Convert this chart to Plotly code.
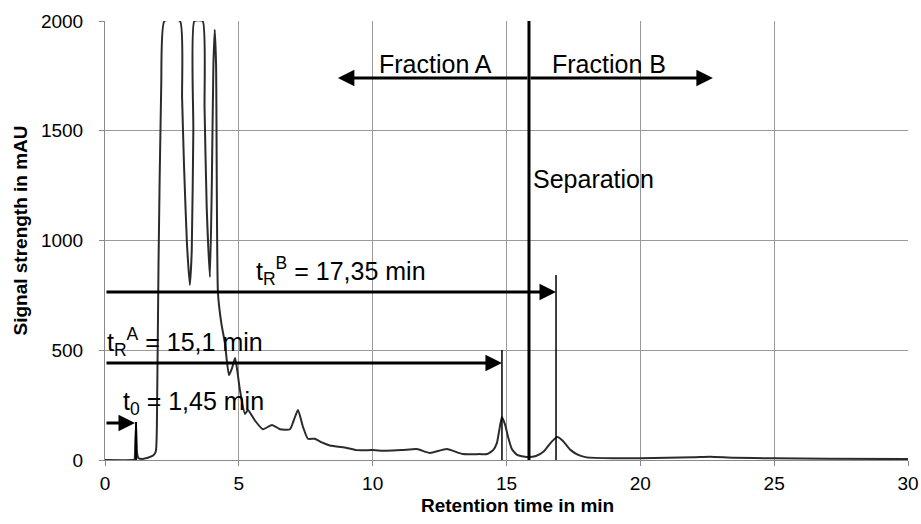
import plotly.graph_objects as go

# Chromatogram (retention time in min, signal in mAU)
time_min = [0, 1.05, 1.1, 1.13, 1.16, 1.2, 1.25, 1.4, 1.6, 1.8, 1.9, 1.95, 2.0, 2.1, 2.22,
            2.8, 2.88, 2.95, 3.06, 3.17, 3.24, 3.3, 3.34, 3.65, 3.72, 3.8, 3.92, 3.99,
            4.05, 4.1, 4.15, 4.22, 4.35, 4.48, 4.63, 4.75, 4.86, 4.95, 5.04, 5.23, 5.34,
            5.6, 5.9, 6.24, 6.54, 6.91, 7.05, 7.21, 7.4, 7.58, 7.84, 8.1, 8.4, 9.03,
            9.4, 10, 10.5, 11.1, 11.65, 12.14, 12.77, 13.37, 14.0, 14.27, 14.5, 14.64,
            14.75, 14.83, 14.95, 15.06, 15.2, 15.4, 15.76, 16.1, 16.4, 16.7,
            16.9, 17.1, 17.4, 17.7, 18, 19, 20, 21, 22, 22.6, 23.5, 25, 27, 30]
signal_mau = [0, 0, 2, 80, 160, 30, 8, 5, 10, 20, 40, 300, 900, 1700, 2000,
              2000, 1650, 1350, 990, 797, 950, 1500, 2000, 2000, 1600, 1150, 834, 1250,
              1800, 1960, 1800, 760, 620, 533, 387, 420, 465, 400, 320, 210, 228,
              180, 140, 160, 140, 140, 180, 228, 150, 97, 97, 80, 66, 55,
              45, 45, 42, 45, 50, 32, 50, 27, 27, 27, 45, 77,
              150, 196, 160, 105, 50, 23, 14, 18, 40, 85,
              105, 88, 45, 22, 12, 8, 8, 10, 12, 15, 10, 8, 6, 4]

# Marker lines and annotation values
t0_line = 1.16
t0_height = 173
tRA_line = 14.83
tRA_height = 501
tRB_line = 16.85
tRB_height = 843
separation_time = 15.84

arrow_t0_y = 168
arrow_tRA_y = 442
arrow_tRB_y = 765
fraction_arrow_y = 1740
fraction_A_end = 8.70
fraction_B_end = 22.71

x_ticks = [0, 5, 10, 15, 20, 25, 30]
y_ticks = [0, 500, 1000, 1500, 2000]

FONT = "Liberation Sans, Arial, Helvetica, sans-serif"

fig = go.Figure()
fig.add_trace(go.Scatter(x=time_min, y=signal_mau, mode="lines",
                         line=dict(color="#2b2b2b", width=2, shape="spline", smoothing=0.5),
                         hoverinfo="skip", showlegend=False, cliponaxis=True))

shapes = []
for xv, hv, w in [(t0_line, t0_height, 2), (tRA_line, tRA_height, 1.5), (tRB_line, tRB_height, 1.5)]:
    shapes.append(dict(type="line", xref="x", yref="y", x0=xv, x1=xv, y0=0, y1=hv,
                       line=dict(color="black", width=w)))
shapes.append(dict(type="line", xref="x", yref="y", x0=separation_time, x1=separation_time,
                   y0=0, y1=2000, line=dict(color="black", width=3)))

annotations = []
def arrow(x_head, y_head, x_tail, y_tail):
    annotations.append(dict(x=x_head, y=y_head, ax=x_tail, ay=y_tail, xref="x", yref="y",
                            axref="x", ayref="y", text="", showarrow=True,
                            arrowhead=2, arrowsize=1.1, arrowwidth=3, arrowcolor="black",
                            standoff=0, startstandoff=0))

arrow(t0_line - 0.04, arrow_t0_y, 0, arrow_t0_y)
arrow(tRA_line, arrow_tRA_y, 0, arrow_tRA_y)
arrow(tRB_line, arrow_tRB_y, 0, arrow_tRB_y)
arrow(fraction_A_end, fraction_arrow_y, separation_time, fraction_arrow_y)
arrow(fraction_B_end, fraction_arrow_y, separation_time, fraction_arrow_y)

font_txt = dict(family=FONT, size=25, color="black")
def label(x, y, text, xanchor="left"):
    annotations.append(dict(x=x, y=y, xref="x", yref="y", text=text, showarrow=False,
                            xanchor=xanchor, yanchor="middle", font=font_txt,
                            borderpad=0))

label(12.33, 1804, "Fraction A", "center")
label(18.83, 1804, "Fraction B", "center")
label(15.95, 1280, "Separation")
label(5.6, 861, "t<sub>R</sub><sup>B</sup> = 17,35 min")
label(0.04, 537, "t<sub>R</sub><sup>A</sup> = 15,1 min")
label(0.63, 260, "t<sub>0</sub> = 1,45 min")

# Axis titles
title_font = dict(family=FONT, size=19, color="black")
annotations.append(dict(text="<b>Retention time in min</b>", xref="paper", yref="paper",
                        x=0.5, y=0, xshift=11, yshift=-45, xanchor="center", yanchor="middle",
                        showarrow=False, font=title_font))
annotations.append(dict(text="<b>Signal strength in mAU</b>", xref="paper", yref="paper",
                        x=0, y=0.5, xshift=-85, yshift=10, xanchor="center", yanchor="middle",
                        textangle=-90, showarrow=False, font=title_font))

fig.update_layout(
    width=921, height=524,
    margin=dict(l=105, r=13, t=21, b=64),
    plot_bgcolor="white", paper_bgcolor="white",
    shapes=shapes, annotations=annotations,
    font=dict(family=FONT, color="black"),
)
fig.update_xaxes(range=[0, 30], tickvals=x_ticks, showgrid=True, gridcolor="#9a9a9a", gridwidth=1,
                 showline=True, linecolor="#8a8a8a", linewidth=1, ticks="outside", ticklen=5,
                 tickcolor="#8a8a8a", tickfont=dict(size=19), zeroline=False, automargin=False,
                 ticklabelstandoff=1)
fig.update_yaxes(range=[0, 2000], tickvals=y_ticks, showgrid=True, gridcolor="#9a9a9a", gridwidth=1,
                 showline=True, linecolor="#8a8a8a", linewidth=1, ticks="outside", ticklen=5,
                 tickcolor="#8a8a8a", tickfont=dict(size=19), zeroline=False, automargin=False,
                 ticklabelstandoff=12)

fig.write_html("out.html", config={"displayModeBar": False},
               post_script="document.body.style.margin='0px';")
